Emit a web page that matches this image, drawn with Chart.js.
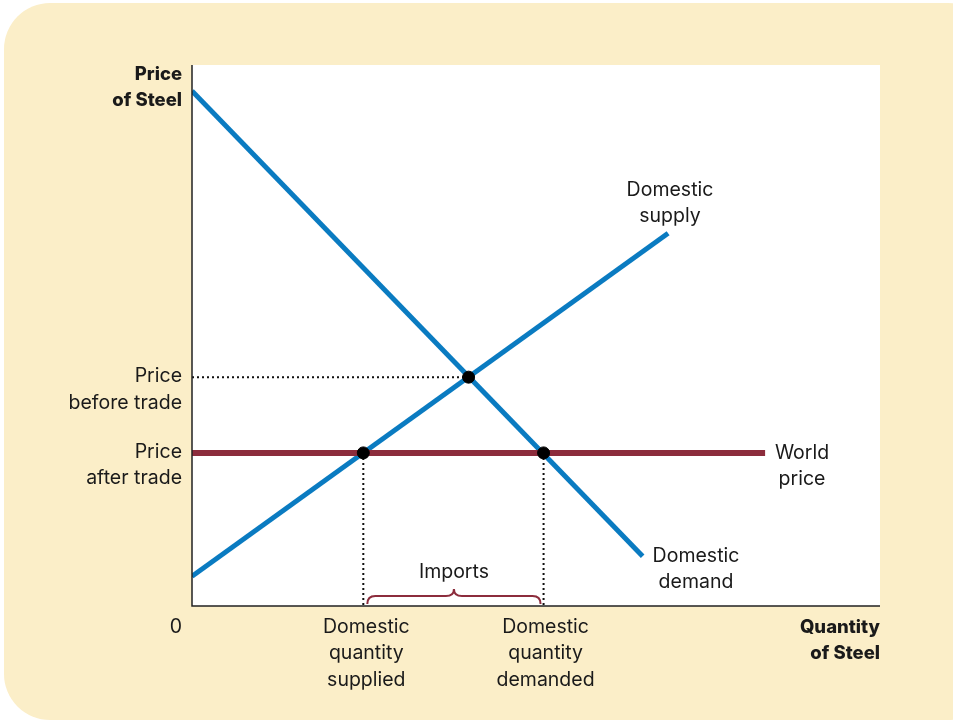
<!DOCTYPE html>
<html>
<head>
<meta charset="utf-8">
<script src="https://cdn.jsdelivr.net/npm/chart.js@4/dist/chart.umd.min.js"></script>
<style>
  html,body{margin:0;padding:0;background:#fff;}
  #wrap{width:953px;height:723px;position:relative;}
</style>
</head>
<body>
<div id="wrap"><canvas id="c" width="953" height="723"></canvas></div>
<script>
// ==== DATA (abstract units, 0..100 on both axes) ====
const demandX = [0, 65.5];
const demandY = [95.2, 9.2];
const supplyX = [0, 69.2];
const supplyY = [5.5, 68.9];
const worldX  = [0, 83.3];
const worldPrice = 28.3;
const priceBefore = 42.3;
const qBefore = 40.2;
const qSupplied = 24.9;
const qDemanded = 51.1;

const BLUE = "#0a7bc1";
const MAROON = "#8c2c3c";
const FONT = "Inter, 'Liberation Sans', Arial, sans-serif";

const pts = (xs, ys) => xs.map((x,i)=>({x, y: ys[i]}));

// ==== background + axes + text ====
const decor = {
  id: "decor",
  beforeDraw(chart){
    const {ctx, chartArea:a} = chart;
    ctx.save();
    ctx.fillStyle = "#fff";
    ctx.fillRect(0,0,chart.width,chart.height);
    ctx.fillStyle = "#fbeec8";
    ctx.beginPath();
    ctx.roundRect(4, 3, 990, 717, 46);
    ctx.fill();
    ctx.fillStyle = "#fff";
    ctx.fillRect(a.left, a.top, a.right-a.left, a.bottom-a.top);
    ctx.restore();
  },
  afterDatasetsDraw(chart){
    const {ctx, chartArea:a, scales:{x, y}} = chart;
    ctx.save();
    // axes
    ctx.strokeStyle = "#222";
    ctx.lineWidth = 1.5;
    ctx.beginPath();
    ctx.moveTo(a.left, a.top); ctx.lineTo(a.left, a.bottom); ctx.lineTo(a.right, a.bottom);
    ctx.stroke();

    // imports brace
    const bx0 = x.getPixelForValue(qSupplied)+4, bx1 = x.getPixelForValue(qDemanded)-3;
    const mid = (bx0+bx1)/2, by = a.bottom-2;
    ctx.strokeStyle = MAROON; ctx.lineWidth = 2;
    ctx.beginPath();
    ctx.moveTo(bx0, by);
    ctx.quadraticCurveTo(bx0, by-8, bx0+8, by-8);
    ctx.lineTo(mid-8, by-8);
    ctx.quadraticCurveTo(mid, by-8, mid, by-15);
    ctx.quadraticCurveTo(mid, by-8, mid+8, by-8);
    ctx.lineTo(bx1-8, by-8);
    ctx.quadraticCurveTo(bx1, by-8, bx1, by);
    ctx.stroke();

    // text
    ctx.fillStyle = "#1a1a1a";
    ctx.textBaseline = "middle";
    const txt = (lines, px, py, align, bold) => {
      ctx.font = bold ? "800 18.5px " + FONT : "400 19.5px " + FONT;
      ctx.textAlign = align;
      lines.forEach((s,i)=>ctx.fillText(s, px, py + i*26.5));
    };
    const L = a.left - 10;
    txt(["Price","of Steel"], L, 74, "right", true);
    txt(["Price","before trade"], L, y.getPixelForValue(priceBefore)-1, "right");
    txt(["Price","after trade"], L, y.getPixelForValue(worldPrice)-1, "right");
    txt(["Domestic","supply"], 670, 190, "center");
    txt(["World","price"], 802, 453, "center");
    txt(["Domestic","demand"], 696, 556, "center");
    txt(["Imports"], mid, 572, "center");
    txt(["0"], 176, 627, "center");
    txt(["Domestic","quantity","supplied"], x.getPixelForValue(qSupplied)+3, 627, "center");
    txt(["Domestic","quantity","demanded"], x.getPixelForValue(qDemanded)+2, 627, "center");
    txt(["Quantity","of Steel"], a.right, 627, "right", true);
    ctx.restore();
  }
};

const dotted = {borderColor:"#111", borderWidth:2, borderDash:[2,3], pointRadius:0, showLine:true, fill:false};

new Chart(document.getElementById("c"), {
  type: "scatter",
  data: {
    datasets: [
      {...dotted, data: pts([0, qBefore], [priceBefore, priceBefore]), order: 5},
      {...dotted, data: pts([qSupplied, qSupplied], [worldPrice, 0]), order: 5},
      {...dotted, data: pts([qDemanded, qDemanded], [worldPrice, 0]), order: 5},
      {data: pts(demandX, demandY), borderColor: BLUE, borderWidth: 5, showLine:true, pointRadius:0, order: 3},
      {data: pts(supplyX, supplyY), borderColor: BLUE, borderWidth: 5, showLine:true, pointRadius:0, order: 3},
      {data: pts(worldX, [worldPrice, worldPrice]), borderColor: MAROON, borderWidth: 6, showLine:true, pointRadius:0, order: 2},
      {data: pts([qSupplied, qDemanded, qBefore], [worldPrice, worldPrice, priceBefore]),
       backgroundColor:"#000", borderColor:"#000", pointRadius:6, showLine:false, order: 1}
    ]
  },
  options: {
    responsive:false, animation:false,
    layout:{ padding:{ left:192, right:73, top:65, bottom:117 } },
    plugins:{ legend:{display:false}, tooltip:{enabled:false} },
    scales:{
      x:{ type:"linear", min:0, max:100, display:false },
      y:{ type:"linear", min:0, max:100, display:false }
    }
  },
  plugins:[decor]
});
</script>
</body>
</html>
